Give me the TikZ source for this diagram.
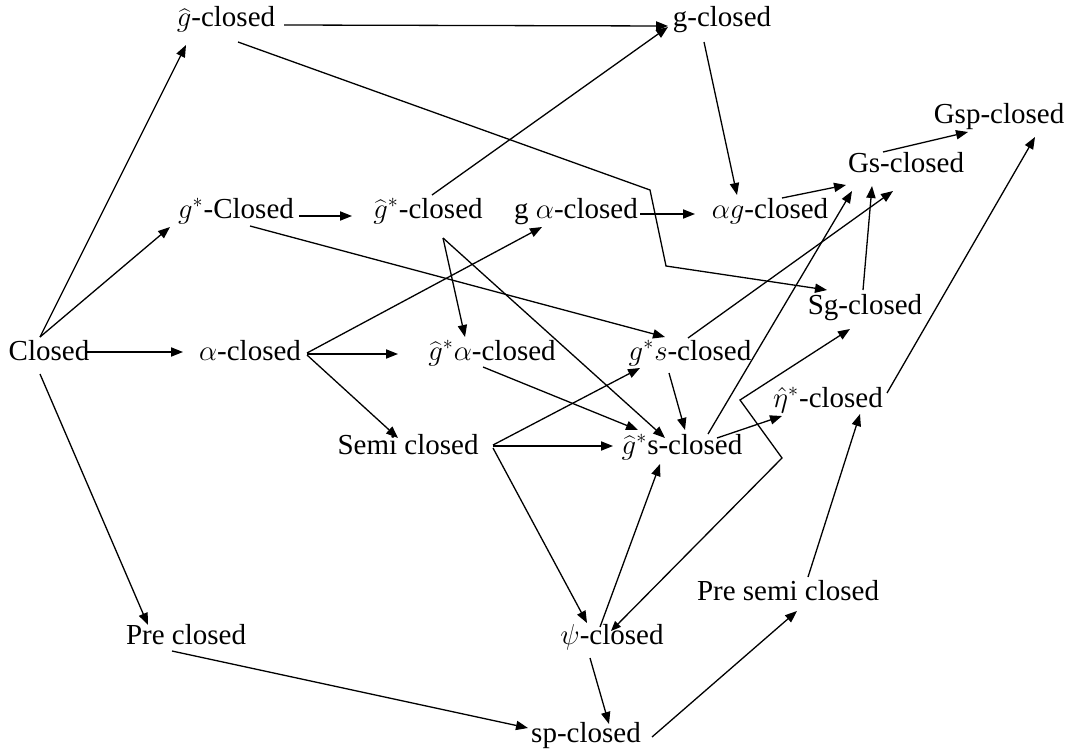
\documentclass[tikz,border=0pt]{standalone}
\usepackage{fontspec}
\setmainfont{Liberation Serif}
\usetikzlibrary{arrows.meta,calc}
\tikzset{
  lbl/.style={anchor=base, inner sep=0pt, font=\fontsize{14.5}{16}\selectfont},
  con/.style={line width=0.65pt, -{Triangle[length=6pt,width=4.6pt]}},
  bicon/.style={line width=0.65pt, {Triangle[length=5pt,width=4pt]}-{Triangle[length=6pt,width=4.6pt]}}
}
\begin{document}
\begin{tikzpicture}[x=0.5pt,y=-0.5pt]
\useasboundingbox (0,0) rectangle (1069,749);
% nodes
\node[lbl] (ghat)   at (226,27)  {$\widehat{g}$-closed};
\node[lbl] (g)      at (722,27)  {g-closed};
\node[lbl] (Gsp)    at (999,124) {Gsp-closed};
\node[lbl] (Gs)     at (906,172) {Gs-closed};
\node[lbl] (gstar)  at (236,218) {$g^{*}$-Closed};
\node[lbl] (ghs)    at (428,218) {$\widehat{g}^{*}$-closed};
\node[lbl] (galpha) at (576,218) {g $\alpha$-closed};
\node[lbl] (alphag) at (770,218) {$\alpha g$-closed};
\node[lbl] (Sg)     at (865,314) {Sg-closed};
\node[lbl] (Closed) at (49,360)  {Closed};
\node[lbl] (alpha)  at (250,360) {$\alpha$-closed};
\node[lbl] (ghsa)   at (492,360) {$\widehat{g}^{*}\alpha$-closed};
\node[lbl] (gss)    at (690,360) {$g^{*}s$-closed};
\node[lbl] (eta)    at (828,407) {$\hat{\eta}^{*}$-closed};
\node[lbl] (Semi)   at (408,454) {Semi closed};
\node[lbl] (ghss)   at (682,454) {$\widehat{g}^{*}$s-closed};
\node[lbl] (PreSemi) at (788,600) {Pre semi closed};
\node[lbl] (Pre)    at (186,644) {Pre closed};
\node[lbl] (psi)    at (612,644) {$\psi$-closed};
\node[lbl] (sp)     at (586,742) {sp-closed};
% bend points
\coordinate (b1) at (650,190);
\coordinate (b2) at (666,266);
\coordinate (z1) at (782,458);
\coordinate (z2) at (740,400);
% connectors
\draw[con] ($(Closed.base)+(-9,-23)$) -- ($(ghat.base)+(-40,18)$);
\draw[con] ($(Closed.base)+(-9,-23)$) -- ($(gstar.base)+(-66,9)$);
\draw[con] ($(Closed.base)+(36,-8)$) -- ($(alpha.base)+(-67,-8)$);
\draw[con] ($(Closed.base)+(-9,14)$) -- ($(Pre.base)+(-38,-19)$);
\draw[con] ($(ghat.base)+(58,-2)$) -- ($(g.base)+(-54,-1)$);
\draw[con] ($(ghat.base)+(12,15)$) -- (b1) -- (b2) -- ($(Sg.base)+(-38,-24)$);
\draw[con] ($(gstar.base)+(63,-2)$) -- ($(ghs.base)+(-76,-2)$);
\draw[con] ($(ghs.base)+(4,-23)$) -- ($(g.base)+(-54,0)$);
\draw[con] ($(gstar.base)+(14,8)$) -- ($(gss.base)+(-25,-23)$);
\draw[con] ($(ghs.base)+(15,20)$) -- ($(ghsa.base)+(-27,-23)$);
\draw[con] ($(ghs.base)+(15,20)$) -- ($(ghss.base)+(-17,-16)$);
\draw[con] ($(galpha.base)+(64,-4)$) -- ($(alphag.base)+(-75,-4)$);
\draw[con] ($(alpha.base)+(57,-7)$) -- ($(galpha.base)+(-34,9)$);
\draw[con] ($(alpha.base)+(57,-6)$) -- ($(ghsa.base)+(-94,-6)$);
\draw[con] ($(alpha.base)+(57,-5)$) -- ($(Semi.base)+(-10,-16)$);
\draw[con] ($(g.base)+(-18,15)$) -- ($(alphag.base)+(-33,-23)$);
\draw[con] ($(alphag.base)+(12,-20)$) -- ($(Gs.base)+(-60,13)$);
\draw[con] ($(Gs.base)+(-23,-20)$) -- ($(Gsp.base)+(-31,8)$);
\draw[con] ($(Sg.base)+(-2,-24)$) -- ($(Gs.base)+(-34,14)$);
\draw[con] ($(gss.base)+(-2,-22)$) -- ($(Gs.base)+(-13,19)$);
\draw[con] ($(ghss.base)+(26,-20)$) -- ($(Gs.base)+(-54,19)$);
\draw[con] ($(gss.base)+(-21,13)$) -- ($(ghss.base)+(3,-24)$);
\draw[con] ($(ghsa.base)+(-9,7)$) -- ($(ghss.base)+(-44,-24)$);
\draw[con] ($(Semi.base)+(85,-9)$) -- ($(gss.base)+(-50,8)$);
\draw[con] ($(Semi.base)+(85,-8)$) -- ($(ghss.base)+(-69,-8)$);
\draw[con] ($(Semi.base)+(85,-6)$) -- ($(psi.base)+(-25,-21)$);
\draw[con] ($(psi.base)+(-12,-17)$) -- ($(ghss.base)+(-22,10)$);
\draw[bicon] ($(psi.base)+(-1,-13)$) -- (z1) -- (z2) -- ($(Sg.base)+(-15,15)$);
\draw[con] ($(ghss.base)+(35,-16)$) -- ($(eta.base)+(-46,9)$);
\draw[con] ($(PreSemi.base)+(20,-23)$) -- ($(eta.base)+(32,7)$);
\draw[con] ($(eta.base)+(59,-14)$) -- ($(Gsp.base)+(36,13)$);
\draw[con] ($(Pre.base)+(-14,7)$) -- ($(sp.base)+(-58,-14)$);
\draw[con] ($(psi.base)+(-22,14)$) -- ($(sp.base)+(23,-18)$);
\draw[con] ($(sp.base)+(66,-5)$) -- ($(PreSemi.base)+(9,11)$);
\end{tikzpicture}
\end{document}
